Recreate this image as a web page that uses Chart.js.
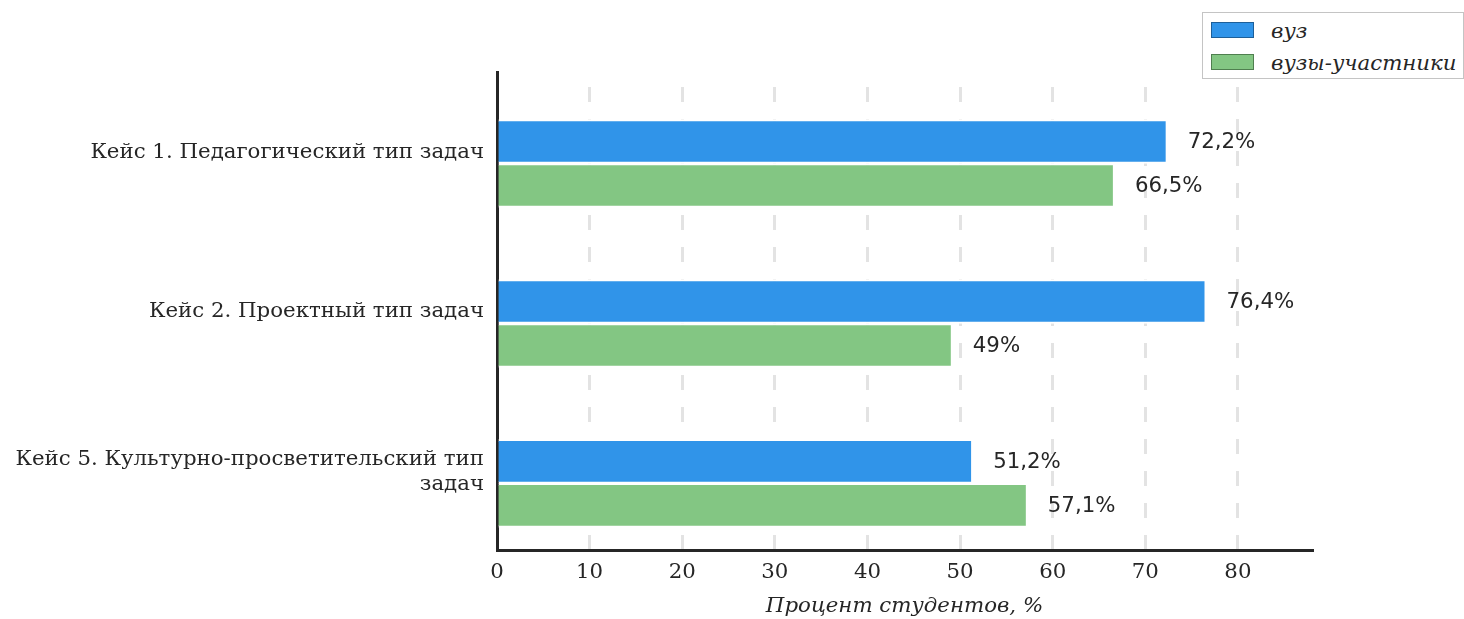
<!DOCTYPE html>
<html lang="ru">
<head>
<meta charset="utf-8">
<title>Кейсы</title>
<script src="https://cdn.jsdelivr.net/npm/chart.js@4.4.1/dist/chart.umd.min.js"></script>
<style>
  body { margin: 0; background: #fff; }
  #wrap { position: relative; width: 1464px; height: 619px; }
  #legend {
    position: absolute; left: 1202px; top: 12px; width: 262px; height: 67px;
    box-sizing: border-box; border: 1px solid #c4c4c4; background: #fff;
    font: italic 21.3px 'DejaVu Serif'; color: #262626;
  }
  .item { position: absolute; left: 8px; display: flex; align-items: center; height: 24px; }
  .patch { width: 41px; height: 14px; margin-right: 17px; border: 1px solid #555; }
</style>
</head>
<body>
<div id="wrap">
  <canvas id="casesChart" width="1464" height="619"></canvas>
  <div id="legend"></div>
</div>
<script>
const categories = [
    'Кейс 1. Педагогический тип задач',
    'Кейс 2. Проектный тип задач',
    ['Кейс 5. Культурно-просветительский тип', 'задач'],
];
const seriesNames = ['вуз', 'вузы-участники'];
const vuzValues = [72.2, 76.4, 51.2];
const participantValues = [66.5, 49, 57.1];
const xTickValues = [0, 10, 20, 30, 40, 50, 60, 70, 80];

const textColor = '#262626';
const fontSize = 21.3;
const labelShift = 0.072; // tick labels sit a bit above the bar pair

function toPoints(values) {
    return values.map((v, i) => ({ x: v, y: i }));
}

const valueLabels = {
    id: 'valueLabels',
    afterDatasetsDraw(chart) {
        const ctx = chart.ctx;
        ctx.save();
        ctx.font = fontSize + 'px "DejaVu Sans"';
        ctx.fillStyle = textColor;
        ctx.textBaseline = 'middle';
        chart.data.datasets.forEach((ds, di) => {
            chart.getDatasetMeta(di).data.forEach((bar, i) => {
                const text = String(ds.data[i].x).replace('.', ',') + '%';
                ctx.fillText(text, bar.x + 22, bar.y + 1);
            });
        });
        ctx.restore();
    }
};

const ctx = document.getElementById('casesChart').getContext('2d');
const casesChart = new Chart(ctx, {
    type: 'bar',
    data: {
        datasets: [
            {
                label: seriesNames[0],
                data: toPoints(vuzValues),
                backgroundColor: '#3094e9',
                legendEdge: '#1d5f99',
                borderColor: '#ffffff',
                borderWidth: { top: 2, bottom: 2, left: 0, right: 0 },
                barThickness: 44,
            },
            {
                label: seriesNames[1],
                data: toPoints(participantValues),
                backgroundColor: '#83c683',
                legendEdge: '#4f7f4f',
                borderColor: '#ffffff',
                borderWidth: { top: 2, bottom: 2, left: 0, right: 0 },
                barThickness: 44,
            },
        ],
    },
    options: {
        indexAxis: 'y',
        responsive: false,
        animation: false,
        layout: { padding: { top: 72, right: 152, left: 0, bottom: 0 } },
        plugins: {
            legend: { display: false },
            tooltip: { enabled: false },
        },
        scales: {
            x: {
                type: 'linear',
                min: 0,
                max: 88,
                afterBuildTicks: (scale) => {
                    scale.ticks = xTickValues.map(v => ({ value: v }));
                },
                afterFit: (scale) => { scale.height = 69; },
                ticks: {
                    color: textColor,
                    font: { family: 'DejaVu Serif', size: fontSize },
                    padding: 10,
                },
                grid: { color: '#e3e3e3', lineWidth: 3, drawTicks: false },
                border: { color: textColor, width: 3, dash: [15, 17], dashOffset: 17 },
                title: {
                    display: true,
                    text: 'Процент студентов, %',
                    color: textColor,
                    font: { family: 'DejaVu Serif', size: fontSize, style: 'italic' },
                    padding: { top: 8, bottom: 0 },
                },
            },
            y: {
                type: 'linear',
                offset: false,
                reverse: true,
                min: -0.572,
                max: 2.416,
                afterBuildTicks: (scale) => {
                    scale.ticks = categories.map((c, i) => ({ value: i - labelShift }));
                },
                afterFit: (scale) => { scale.width = 497; },
                ticks: {
                    callback: (value, index) => categories[index],
                    color: textColor,
                    font: { family: 'DejaVu Serif', size: fontSize, lineHeight: 1.17 },
                    padding: 13,
                },
                grid: { display: false, drawTicks: false },
                border: { color: textColor, width: 3 },
            },
        },
    },
    plugins: [valueLabels],
});

// legend box in the top right corner
const legendBox = document.getElementById('legend');
casesChart.data.datasets.forEach((ds, i) => {
    const item = document.createElement('div');
    item.className = 'item';
    item.style.top = (5 + i * 32) + 'px';
    const patch = document.createElement('span');
    patch.className = 'patch';
    patch.style.background = ds.backgroundColor;
    patch.style.borderColor = ds.legendEdge;
    const label = document.createElement('span');
    label.textContent = ds.label;
    item.appendChild(patch);
    item.appendChild(label);
    legendBox.appendChild(item);
});
</script>
</body>
</html>
